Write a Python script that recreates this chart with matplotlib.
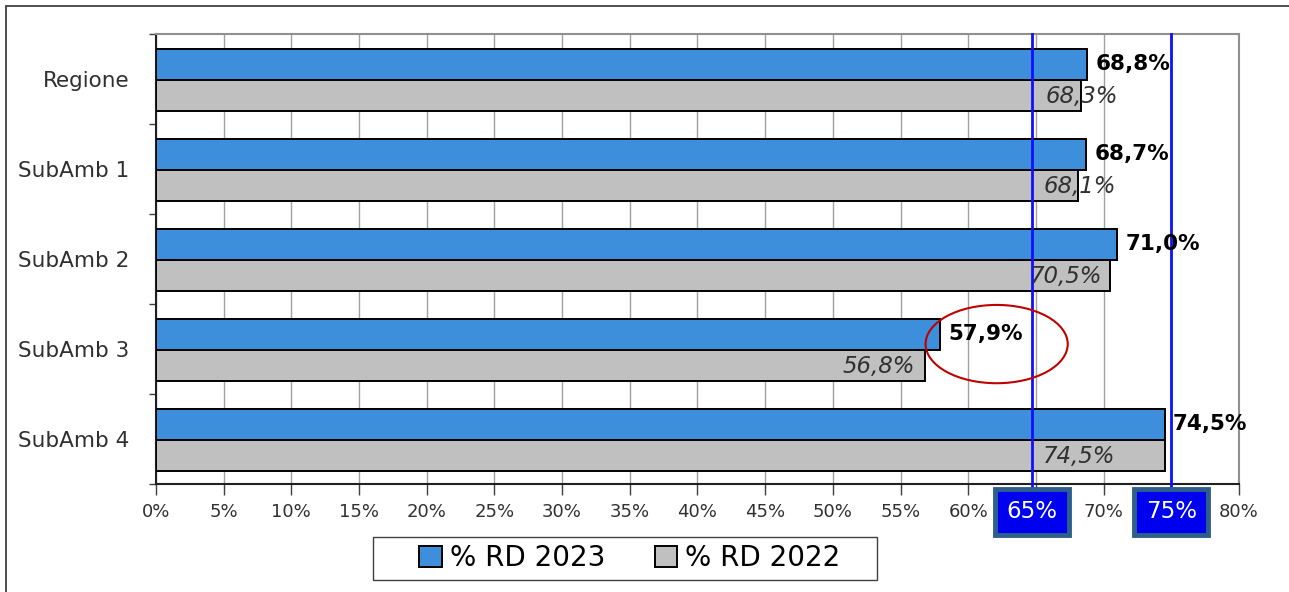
import matplotlib
matplotlib.use("Agg")
import matplotlib.pyplot as plt
from matplotlib.patches import Rectangle, Ellipse
from matplotlib.ticker import FixedLocator, FuncFormatter
import numpy as np

plt.rcParams['font.family'] = ['DejaVu Sans']

# dati
categorie = ["Regione", "SubAmb 1", "SubAmb 2", "SubAmb 3", "SubAmb 4"]
rd_2023 = [68.8, 68.7, 71.0, 57.9, 74.5]
rd_2022 = [68.3, 68.1, 70.5, 56.8, 74.5]
soglie = [65, 75]
soglie_label = ["65%", "75%"]

# posizione (bordo destro, in %) delle etichette 2022, come nel grafico originale
pos_label_2022 = [71.1, 70.9, 69.9, 56.1, 70.9]

blu = "#3d8fdb"
grigio = "#c0c0c0"

fig = plt.figure(figsize=(12.89, 5.92), dpi=100)
ax = fig.add_axes([0.1210, 0.1824, 0.8402, 0.7601])

# cornice esterna
fig.patches.append(Rectangle((6 / 1289, -0.2), 1.2, 0.99 + 0.2, transform=fig.transFigure,
                             fill=False, edgecolor="#404040", linewidth=1.3))

y = np.arange(len(categorie))
h = 0.345
ax.barh(y - h / 2 + 0.01, rd_2023, height=h, color=blu, edgecolor="black", linewidth=1.4,
        zorder=3, label="% RD 2023")
ax.barh(y + h / 2 + 0.01, rd_2022, height=h, color=grigio, edgecolor="black", linewidth=1.4,
        zorder=3, label="% RD 2022")

ax.set_xlim(0, 80)
ax.set_ylim(len(categorie) - 0.5, -0.5)

# etichette valori
for i, v in enumerate(rd_2023):
    ax.text(v + 0.6, i - h / 2 + 0.01, f"{v:.1f}%".replace(".", ","), ha="left", va="center",
            fontsize=15.5, fontweight="bold", zorder=5)
for i, v in enumerate(rd_2022):
    ax.text(pos_label_2022[i], i + h / 2 + 0.02, f"{v:.1f}%".replace(".", ","), ha="right",
            va="center", fontsize=16.5, fontstyle="italic", color="#303030", zorder=5)

# griglia e assi (le etichette 65% e 75% sono coperte dai riquadri delle soglie)
ax.set_xticks(np.arange(0, 81, 5))
ax.xaxis.set_major_formatter(FuncFormatter(lambda x, p: "" if round(x) in soglie else f"{x:.0f}%"))
ax.grid(axis="x", color="#a0a0a0", linewidth=1, zorder=0)
ax.tick_params(axis="x", direction="out", length=8, width=1, color="#404040",
               labelsize=13, labelcolor="#303030", pad=6)

ax.set_yticks(y)
ax.set_yticklabels(categorie)
ax.yaxis.set_minor_locator(FixedLocator(np.arange(-0.5, len(categorie), 1)))
ax.tick_params(axis="y", which="major", length=0, labelsize=15.5, labelcolor="#303030", pad=19)
ax.tick_params(axis="y", which="minor", direction="out", length=5, width=1, color="#404040")

for lato in ["top", "right"]:
    ax.spines[lato].set_color("#909090")
    ax.spines[lato].set_linewidth(1.5)
for lato in ["left", "bottom"]:
    ax.spines[lato].set_color("#202020")
    ax.spines[lato].set_linewidth(1.5)

# soglie
for s, lab in zip([64.7, 75.0], soglie_label):
    ax.axvline(s, ymin=-0.01, ymax=1, color="#1010ff", linewidth=2, zorder=4, clip_on=False)
    ax.text(s, -0.062, lab, transform=ax.get_xaxis_transform(), ha="center", va="center",
            fontsize=16.5, color="white", zorder=6,
            bbox=dict(boxstyle="square,pad=0.5", facecolor="#0000f0", edgecolor="#2e5f8a",
                      linewidth=3.5))

# ellisse rossa
ax.add_patch(Ellipse((62.1, 2.945), 10.5, 0.87, fill=False, edgecolor="#c00000",
                     linewidth=1.5, zorder=6, clip_on=False))

# legenda con riquadro disegnato a parte
fig.patches.append(Rectangle((373 / 1289, 1 - 580 / 592), 504 / 1289, 43 / 592,
                             transform=fig.transFigure, facecolor="white",
                             edgecolor="#404040", linewidth=1))
fig.legend(loc="center", bbox_to_anchor=(630 / 1289, 1 - 558.5 / 592), ncol=2, fontsize=20,
           frameon=False, handlelength=0.8, handleheight=0.8, handletextpad=0.29,
           columnspacing=1.8, borderpad=0.2)

fig.savefig("out.png", dpi=100)
